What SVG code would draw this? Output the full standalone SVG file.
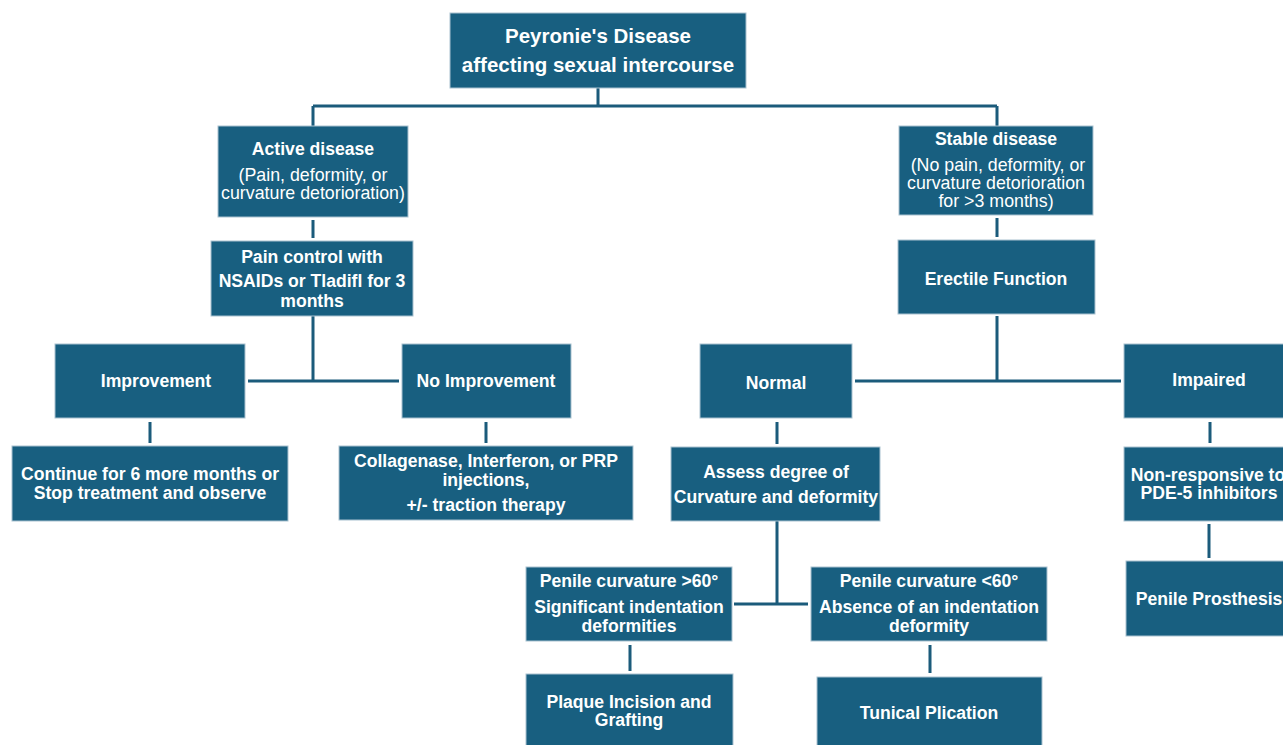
<svg xmlns="http://www.w3.org/2000/svg" width="1283" height="745" viewBox="0 0 1283 745">
<style>
.b{fill:#185f80;stroke:#a9c2d0;stroke-width:1}
.t{font-family:"Liberation Sans",Arial,sans-serif;font-weight:bold;font-size:17.6px;fill:#fff;text-anchor:middle}
.n{font-weight:normal;font-size:17.8px}
.big{font-size:20.5px}
.c{stroke:#1b5b7b;stroke-width:3;fill:none}
</style>
<rect width="1283" height="745" fill="#fff"/>
<g id="connectors">
<path class="c" d="M598,88V106M313,106H997M313,106V126M997,106V126"/>
<path class="c" d="M313,220V238M313,316V381M248,381H399"/>
<path class="c" d="M150,422V443M486,422V443"/>
<path class="c" d="M997,218V237M997,316V381M855,381H1121"/>
<path class="c" d="M777,422V444M777,521V604M734,604H808"/>
<path class="c" d="M630,645V671M930,645V673M1210,422V443M1209,524V558"/>
</g>
<g id="root"><rect class="b" x="450" y="13" width="296" height="75"/>
<text class="t big" x="598" y="43">Peyronie's Disease</text>
<text class="t big" x="598" y="72">affecting sexual intercourse</text></g>
<g id="active"><rect class="b" x="218" y="126" width="190" height="91"/>
<text class="t" x="313" y="155">Active disease</text>
<text class="t n" x="313" y="181">(Pain, deformity, or</text>
<text class="t n" x="313" y="199">curvature detorioration)</text></g>
<g id="pain"><rect class="b" x="211" y="241" width="202" height="75"/>
<text class="t" x="312" y="263">Pain control with</text>
<text class="t" x="312" y="287">NSAIDs or Tladifl for 3</text>
<text class="t" x="312" y="307">months</text></g>
<g id="improvement"><rect class="b" x="55" y="344" width="190" height="74"/>
<text class="t" x="156" y="387">Improvement</text></g>
<g id="noimprovement"><rect class="b" x="402" y="344" width="169" height="74"/>
<text class="t" x="486" y="387">No Improvement</text></g>
<g id="continue"><rect class="b" x="12" y="446" width="276" height="75"/>
<text class="t" x="150" y="480">Continue for 6 more months or</text>
<text class="t" x="150" y="499">Stop treatment and observe</text></g>
<g id="collagenase"><rect class="b" x="339" y="446" width="294" height="74"/>
<text class="t" x="486" y="467">Collagenase, Interferon, or PRP</text>
<text class="t" x="486" y="486">injections,</text>
<text class="t" x="486" y="511">+/- traction therapy</text></g>
<g id="stable"><rect class="b" x="899" y="126" width="194" height="89"/>
<text class="t" x="996" y="145">Stable disease</text>
<text class="t n" x="998" y="171">(No pain, deformity, or</text>
<text class="t n" x="996" y="189">curvature detorioration</text>
<text class="t n" x="996" y="207">for &gt;3 months)</text></g>
<g id="erectile"><rect class="b" x="898" y="240" width="197" height="74"/>
<text class="t" x="996" y="285">Erectile Function</text></g>
<g id="normal"><rect class="b" x="700" y="344" width="152" height="74"/>
<text class="t" x="776" y="389">Normal</text></g>
<g id="impaired"><rect class="b" x="1124" y="344" width="170" height="74"/>
<text class="t" x="1209" y="386">Impaired</text></g>
<g id="assess"><rect class="b" x="671" y="447" width="209" height="74"/>
<text class="t" x="776" y="478">Assess degree of</text>
<text class="t" x="776" y="503">Curvature and deformity</text></g>
<g id="nonresp"><rect class="b" x="1124" y="447" width="170" height="74"/>
<text class="t" x="1208" y="481">Non-responsive to</text>
<text class="t" x="1209" y="499">PDE-5 inhibitors</text></g>
<g id="gt60"><rect class="b" x="526" y="567" width="206" height="74"/>
<text class="t" x="629" y="587">Penile curvature &gt;60°</text>
<text class="t" x="629" y="613">Significant indentation</text>
<text class="t" x="629" y="632">deformities</text></g>
<g id="lt60"><rect class="b" x="811" y="567" width="236" height="74"/>
<text class="t" x="929" y="587">Penile curvature &lt;60°</text>
<text class="t" x="929" y="613">Absence of an indentation</text>
<text class="t" x="929" y="632">deformity</text></g>
<g id="prosthesis"><rect class="b" x="1126" y="561" width="168" height="75"/>
<text class="t" x="1209" y="605">Penile Prosthesis</text></g>
<g id="plaque"><rect class="b" x="526" y="674" width="207" height="80"/>
<text class="t" x="629" y="708">Plaque Incision and</text>
<text class="t" x="629" y="726">Grafting</text></g>
<g id="tunical"><rect class="b" x="817" y="677" width="225" height="80"/>
<text class="t" x="929" y="719">Tunical Plication</text></g>
</svg>
